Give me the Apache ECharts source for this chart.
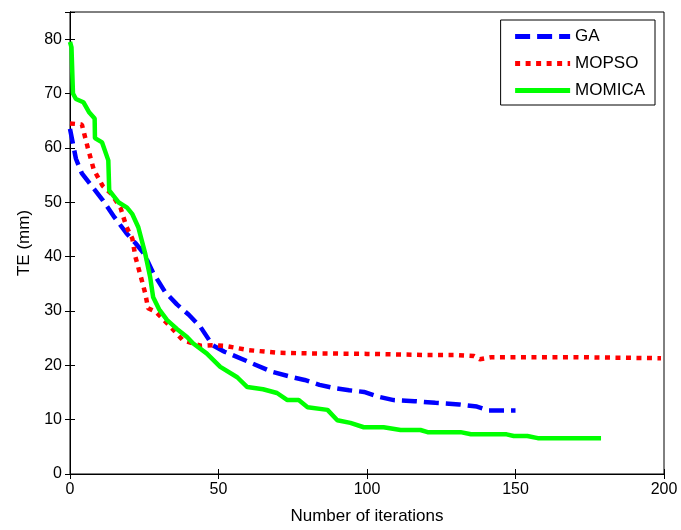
<!DOCTYPE html>
<html>
<head>
<meta charset="utf-8">
<script src="https://cdn.jsdelivr.net/npm/echarts@6/dist/echarts.min.js"></script>
<style>
  html, body { margin: 0; padding: 0; background: #fff; }
  #chart { width: 681px; height: 530px; }
</style>
</head>
<body>
<div id="chart"></div>
<script>
  // iterations / TE values
  var gaIter = [0, 2, 4, 8, 11, 15, 19, 22, 25, 28, 32, 36, 40, 44, 48, 52, 56, 62, 68, 75, 79, 84, 89, 94, 99, 104, 109, 116, 123, 131, 137, 141, 150];
  var gaTE = [63.5, 58, 55.3, 52.5, 50.4, 47.2, 44.3, 42.5, 40.5, 37, 33.5, 31.2, 29.3, 27, 23.7, 22.5, 21.6, 20.2, 18.8, 17.8, 17.3, 16.4, 15.8, 15.4, 15.1, 14.2, 13.6, 13.4, 13.1, 12.8, 12.4, 11.7, 11.7];

  var mopsoIter = [0, 4, 6, 8, 11, 14, 17, 19, 21, 22, 24, 25.3, 26.3, 29, 34, 38, 44, 48, 52, 60, 70, 80, 100, 120, 130, 136, 138, 142, 170, 199];
  var mopsoTE = [64.5, 64.3, 60, 56, 53, 51.5, 49, 45.5, 43.3, 40, 36, 33.3, 30.5, 29.8, 27, 24.6, 23.6, 23.7, 23.6, 22.8, 22.3, 22.2, 22.1, 21.9, 21.9, 21.7, 21.1, 21.5, 21.5, 21.3];

  var momicaIter = [0, 0.5, 1, 2, 4.5, 6.5, 8.3, 8.4, 10.8, 12.9, 13.2, 16.3, 19.2, 21, 23, 25.3, 27, 28, 30, 32.7, 36, 39.4, 41.5, 46, 50.6, 56.3, 59.7, 65, 69.7, 73.2, 77, 80, 86.7, 90, 94.4, 98.9, 105.6, 111.3, 118, 120.4, 131.5, 135, 147, 149.4, 154, 157.5, 178.8];
  var momicaTE = [79.5, 78.5, 70, 69, 68.4, 66.5, 65.4, 61.8, 61, 57.7, 52.2, 50, 49, 47.8, 45.4, 40.6, 36.2, 32.5, 30.3, 28.3, 26.7, 25.2, 24, 22.2, 19.7, 17.8, 16, 15.6, 14.9, 13.6, 13.6, 12.3, 11.8, 9.9, 9.4, 8.6, 8.6, 8.1, 8.1, 7.7, 7.7, 7.3, 7.3, 7, 7, 6.6, 6.6];

  function pairs(xs, ys) {
    return xs.map(function (x, i) { return [x, ys[i]]; });
  }

  var font = 'Liberation Sans, Arial, sans-serif';
  var chart = echarts.init(document.getElementById('chart'));

  var tickStyle = { show: true, inside: true, length: 5, lineStyle: { color: '#000' } };
  var lineAxis = { show: true, lineStyle: { color: '#000', width: 1 } };

  chart.setOption({
    backgroundColor: '#fff',
    animation: false,
    grid: { left: 70, right: 17, top: 12, bottom: 55, show: true, borderColor: '#000', borderWidth: 1 },
    legend: {
      right: 26, top: 20,
      orient: 'vertical',
      backgroundColor: '#fff',
      borderColor: '#000', borderWidth: 1,
      padding: [8, 10, 6, 12],
      itemGap: 10,
      itemWidth: 55, itemHeight: 18,
      itemStyle: { opacity: 0 },
      lineStyle: { width: 5 },
      textStyle: { fontFamily: font, fontSize: 17, color: '#000' },
      data: ['GA', 'MOPSO', 'MOMICA']
    },
    xAxis: [{
      type: 'value', min: 0, max: 200, interval: 50,
      name: 'Number of iterations', nameLocation: 'middle', nameGap: 34,
      nameTextStyle: { fontFamily: font, fontSize: 17, color: '#000' },
      axisLine: lineAxis, axisTick: tickStyle,
      axisLabel: { fontFamily: font, fontSize: 16, color: '#000', margin: 8 },
      splitLine: { show: false }
    }, {
      type: 'value', min: 0, max: 200, interval: 50, position: 'top',
      axisLine: lineAxis, axisTick: tickStyle, axisLabel: { show: false }, splitLine: { show: false }
    }],
    yAxis: [{
      type: 'value', min: 0, max: 85, interval: 10,
      name: 'TE (mm)', nameLocation: 'middle', nameGap: 36,
      nameTextStyle: { fontFamily: font, fontSize: 17, color: '#000' },
      axisLine: lineAxis, axisTick: tickStyle,
      axisLabel: {
        fontFamily: font, fontSize: 16, color: '#000', margin: 8,
        formatter: function (v) { return v % 10 === 0 ? v : ''; }
      },
      splitLine: { show: false }
    }, {
      type: 'value', min: 0, max: 85, interval: 10, position: 'right',
      axisLine: lineAxis, axisTick: tickStyle, axisLabel: { show: false }, splitLine: { show: false }
    }],
    series: [{
      name: 'GA', type: 'line', symbol: 'none',
      itemStyle: { color: '#0000ff' },
      lineStyle: { color: '#0000ff', width: 4.5, type: [15, 7], cap: 'butt' },
      data: pairs(gaIter, gaTE)
    }, {
      name: 'MOPSO', type: 'line', symbol: 'none',
      itemStyle: { color: '#ff0000' },
      lineStyle: { color: '#ff0000', width: 4.5, type: [5, 5.5], cap: 'butt' },
      data: pairs(mopsoIter, mopsoTE)
    }, {
      name: 'MOMICA', type: 'line', symbol: 'none',
      itemStyle: { color: '#00ff00' },
      lineStyle: { color: '#00ff00', width: 4.5 },
      data: pairs(momicaIter, momicaTE)
    }]
  });
</script>
</body>
</html>
